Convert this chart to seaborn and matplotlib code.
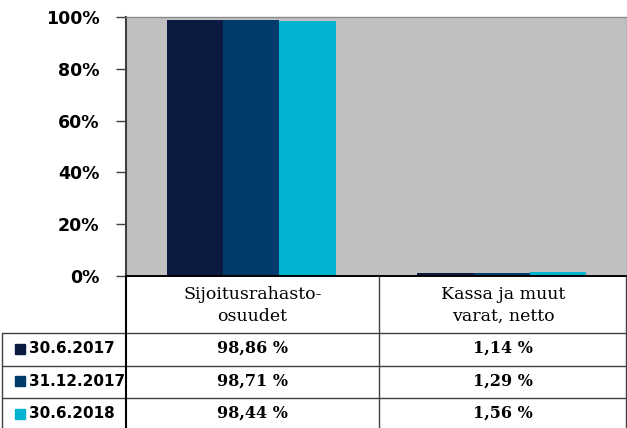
import matplotlib
matplotlib.use('Agg')

import pandas as pd
import matplotlib.pyplot as plt
import seaborn as sns
from matplotlib.ticker import PercentFormatter
from matplotlib.patches import Rectangle

# ========== 数据 ==========
categories = ['Sijoitusrahasto-\nosuudet', 'Kassa ja muut\nvarat, netto']
series = ['30.6.2017', '31.12.2017', '30.6.2018']
values = {
    '30.6.2017': [98.86, 1.14],
    '31.12.2017': [98.71, 1.29],
    '30.6.2018': [98.44, 1.56],
}
value_labels = {
    '30.6.2017': ['98,86 %', '1,14 %'],
    '31.12.2017': ['98,71 %', '1,29 %'],
    '30.6.2018': ['98,44 %', '1,56 %'],
}
colors = ['#0A1A40', '#003B6C', '#00B4D0']

rows = []
for s in series:
    for c, v in zip(categories, values[s]):
        rows.append({'cat': c, 'series': s, 'share': v / 100})
df = pd.DataFrame(rows)

sns.set_theme(style='white')
plt.rcParams['font.family'] = ['DejaVu Sans']
plt.rcParams['text.color'] = 'black'
plt.rcParams['ytick.labelcolor'] = 'black'

W, H = 627, 428
fig = plt.figure(figsize=(W / 100, H / 100), dpi=100)

# ========== 图表区 ==========
left, right, top, bottom = 126, 627, 17, 276
ax = fig.add_axes([left / W, 1 - bottom / H, (right - left) / W, (bottom - top) / H])
ax.set_facecolor('#C0C0C0')
sns.barplot(data=df, x='cat', y='share', hue='series', hue_order=series,
            palette=colors, width=0.676, gap=0, saturation=1, legend=False,
            edgecolor='none', ax=ax)
ax.set_xlim(-0.5, 1.5)
ax.set_ylim(0, 1)
ax.set_yticks([0, 0.2, 0.4, 0.6, 0.8, 1.0])
ax.yaxis.set_major_formatter(PercentFormatter(1.0, decimals=0))
ax.set_xticks([])
ax.set_xlabel('')
ax.set_ylabel('')
ax.tick_params(axis='y', left=True, length=7, width=1, color='#404040',
               labelsize=12.5, pad=12, labelcolor='black')
for lab in ax.get_yticklabels():
    lab.set_fontweight('bold')
for side in ['top', 'right']:
    ax.spines[side].set_color('#8C8C8C')
    ax.spines[side].set_linewidth(1)
ax.spines['left'].set_color('#404040')
ax.spines['left'].set_linewidth(1.5)
ax.spines['bottom'].set_color('black')
ax.spines['bottom'].set_linewidth(1.2)

# ========== 数据表 ==========
tab = fig.add_axes([0, 0, 1, 1], facecolor='none')
tab.set_xlim(0, W)
tab.set_ylim(H, 0)
tab.axis('off')

col_edges = [left, 379, right]
row_edges = [333, 366, 398, 431]

tab.plot([left, right], [bottom, bottom], color='black', lw=1.2)
for y in row_edges[:-1]:
    tab.plot([2, right], [y, y], color='#404040', lw=1)
tab.plot([2, 2], [row_edges[0], H], color='#404040', lw=1)
tab.plot([left, left], [bottom, H], color='black', lw=1.5)
tab.plot([379, 379], [bottom, H], color='#404040', lw=1)
tab.plot([right - 1, right - 1], [bottom, H], color='#404040', lw=1)

for i, c in enumerate(categories):
    cx = (col_edges[i] + col_edges[i + 1]) / 2
    tab.text(cx, (bottom + row_edges[0]) / 2 + 1, c, ha='center', va='center',
             fontsize=12.5, family='DejaVu Serif', linespacing=1.35, color='black')

for j, (s, col) in enumerate(zip(series, colors)):
    cy = (row_edges[j] + row_edges[j + 1]) / 2 - 1
    tab.add_patch(Rectangle((15, cy - 5), 10, 10, color=col))
    tab.text(29, cy, s, ha='left', va='center', fontsize=11, fontweight='bold',
             color='black')
    for i, lbl in enumerate(value_labels[s]):
        cx = (col_edges[i] + col_edges[i + 1]) / 2
        tab.text(cx, cy, lbl, ha='center', va='center', fontsize=11.5,
                 family='DejaVu Serif', fontweight='bold', color='black')

fig.savefig('out.png', dpi=100)
